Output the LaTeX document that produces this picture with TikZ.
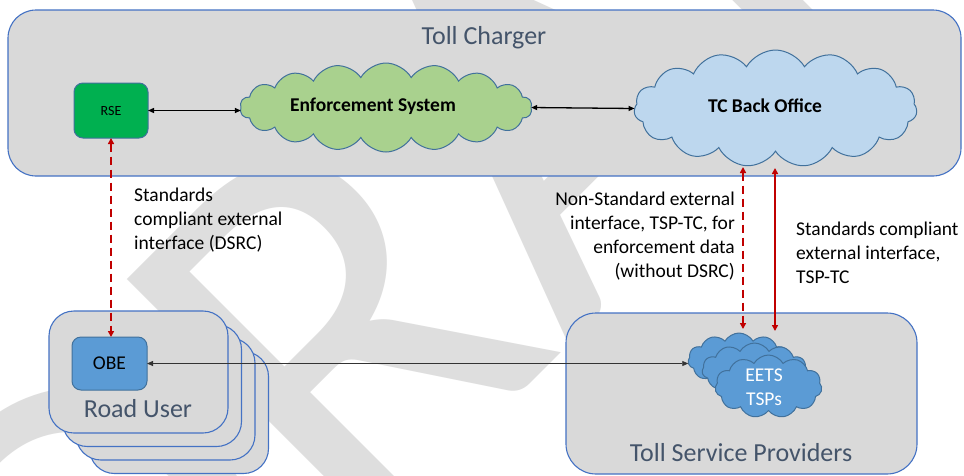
\documentclass[tikz,border=0pt]{standalone}
\usepackage{fontspec}
\setmainfont{Carlito}
\usetikzlibrary{shapes.symbols,arrows.meta}
\definecolor{boxfill}{HTML}{D9D9D9}
\definecolor{boxline}{HTML}{4472C4}
\definecolor{darkline}{HTML}{41719C}
\definecolor{rsegreen}{HTML}{00B050}
\definecolor{enfgreen}{HTML}{A9D18E}
\definecolor{tcblue}{HTML}{BDD7EE}
\definecolor{obeblue}{HTML}{5B9BD5}
\definecolor{titlecol}{HTML}{44546A}
\definecolor{redline}{HTML}{C00000}
\definecolor{wmgrey}{HTML}{DEDEDE}
\begin{document}
\begin{tikzpicture}[x=1pt,y=-1pt,
  groupbox/.style={draw=boxline, fill=boxfill, line width=1.1pt, rounded corners=#1, inner sep=0, outer sep=0},
  devbox/.style={draw=darkline, line width=1pt, rounded corners=9pt, inner sep=0, outer sep=0},
  cloudnode/.style={cloud, cloud puffs=#1, cloud puff arc=120, cloud ignores aspect, draw=darkline, line width=1pt, inner sep=0, outer sep=0},
  titletext/.style={font=\fontsize{26}{31}\selectfont, text=titlecol, inner sep=0},
  maintext/.style={font=\fontsize{19.5}{23.8}\selectfont, inner sep=0},
  boldtext/.style={font=\fontsize{19.5}{23.8}\selectfont\bfseries, inner sep=0},
  blackarrow/.style={{Triangle[length=6pt,width=5pt]}-{Triangle[length=6pt,width=5pt]}, line width=1.3pt, black},
  thinarrow/.style={{Triangle[length=6pt,width=5pt]}-{Triangle[length=6pt,width=5pt]}, line width=0.8pt, black!80},
  reddash/.style={{Triangle[length=6pt,width=6pt]}-{Triangle[length=6pt,width=6pt]}, line width=2pt, redline, dash pattern=on 8pt off 5pt},
  redsolid/.style={{Triangle[length=6pt,width=6pt]}-{Triangle[length=6pt,width=6pt]}, line width=2pt, redline}]
\useasboundingbox (0,0) rectangle (964,475);
\fill[white] (0,0) rectangle (964,475);
% watermark
\begin{scope}
\clip (0,0) rectangle (964,475);
\node[rotate=45, anchor=base west, inner sep=0, text=wmgrey, font=\fontsize{559}{600}\selectfont] (wm) at (109.4,804.7) {DRAFT};
\end{scope}
% group boxes
\node[groupbox=28pt, minimum width=953, minimum height=166] (tcbox) at (484.5,93) {};
\node[titletext] (tctitle) at (484,38) {Toll Charger};
\node[groupbox=30pt, minimum width=351, minimum height=161] (tspbox) at (741.5,393.5) {};
\node[titletext] (tsptitle) at (741,453) {Toll Service Providers};
\node[groupbox=25pt, minimum width=179, minimum height=122] (ru4) at (179,412.5) {};
\node[groupbox=25pt, minimum width=179, minimum height=122] (ru3) at (165.5,399) {};
\node[groupbox=25pt, minimum width=179, minimum height=122] (ru2) at (152,385.5) {};
\node[groupbox=25pt, minimum width=179, minimum height=122] (ru1) at (138.5,372) {};
\node[titletext] (rutitle) at (138,409) {Road User};
% devices
\node[devbox, fill=rsegreen, minimum width=74, minimum height=55, font=\fontsize{14}{16}\selectfont] (rse) at (111,110.5) {RSE};
\node[devbox, fill=obeblue, minimum width=75, minimum height=53, font=\fontsize{19.5}{23.8}\selectfont] (obe) at (109.5,363.5) {OBE};
% clouds
\node[cloudnode=18, fill=enfgreen, minimum width=292, minimum height=89] (enf) at (386,107.5) {};
\node[boldtext] (enftext) at (373,106) {Enforcement System};
\node[cloudnode=15, fill=tcblue, minimum width=283, minimum height=117] (tc) at (775.5,108.5) {};
\node[boldtext] (tctext) at (765,106) {TC Back Office};
\node[cloudnode=11, fill=obeblue, minimum width=102, minimum height=54] (eets3) at (739,360) {};
\node[cloudnode=11, fill=obeblue, minimum width=105, minimum height=54] (eets2) at (754.5,370) {};
\node[cloudnode=11, fill=obeblue, minimum width=107, minimum height=63] (eets1) at (768.5,386.5) {};
\node[maintext, text=white, align=center] (eetstext) at (764,387) {EETS\\TSPs};
% connector end points
\coordinate (dtop) at (743,167);
\coordinate (dbot) at (743,329);
\coordinate (stop) at (775,168);
\coordinate (sbot) at (775,331);
% connectors
\draw[blackarrow] (rse.east) -- (rse.east -| enf.west);
\draw[blackarrow] (enf.east) -- (tc.west);
\draw[reddash] (rse.south) -- (rse.south |- obe.north);
\draw[thinarrow] (obe.east) -- (obe.east -| eets3.west);
\draw[reddash] (dtop) -- (dbot);
\draw[redsolid] (stop) -- (sbot);
% labels
\node[maintext, align=left, anchor=west] (lab1) at (134,220) {Standards\\compliant external\\interface (DSRC)};
\node[maintext, align=right, anchor=east] (lab2) at (735,236) {Non-Standard external\\interface, TSP-TC, for\\enforcement data\\(without DSRC)};
\node[maintext, align=left, anchor=west] (lab3) at (796,253) {Standards compliant\\external interface,\\TSP-TC};
\end{tikzpicture}
\end{document}
